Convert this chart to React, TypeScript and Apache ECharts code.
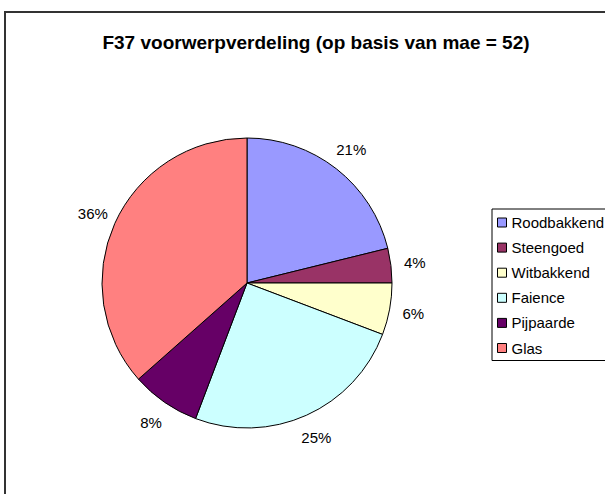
import React, { useEffect, useRef } from "react";
import * as echarts from "echarts";

const categories = ["Roodbakkend", "Steengoed", "Witbakkend", "Faience", "Pijpaarde", "Glas"];
const counts = [11, 2, 3, 13, 4, 19];
const colors = ["#9999FF", "#993366", "#FFFFCC", "#CCFFFF", "#660066", "#FF8080"];
const titleText = "F37 voorwerpverdeling (op basis van mae = 52)";

export default function App() {
  const ref = useRef<HTMLDivElement>(null);
  useEffect(() => {
    if (!ref.current) return;
    const chart = echarts.init(ref.current, null, { renderer: "svg" });
    const font = "Liberation Sans, Arial, sans-serif";
    const cx = 247;
    const cy = 283;
    const r = 145;
    const labelR = 169;
    const total = counts.reduce((a, b) => a + b, 0);
    const midAngles: number[] = [];
    let acc = 0;
    counts.forEach((v) => {
      midAngles.push(Math.PI / 2 - ((acc + v / 2) / total) * 2 * Math.PI);
      acc += v;
    });
    chart.setOption({
      animation: false,
      backgroundColor: "#fff",
      title: {
        text: titleText,
        left: 311,
        top: 28,
        textAlign: "center",
        textStyle: { fontFamily: font, fontSize: 19, fontWeight: "bold", color: "#000" },
      },
      graphic: [
        {
          type: "rect",
          shape: { x: 5, y: 12, width: 700, height: 600 },
          style: { fill: "none", stroke: "#333", lineWidth: 2 },
          silent: true,
          z: -1,
        },
      ],
      legend: {
        orient: "vertical",
        left: 492,
        top: 209,
        itemWidth: 9,
        itemHeight: 9,
        itemGap: 10.1,
        icon: "rect",
        borderColor: "#000",
        borderWidth: 1,
        padding: [6, 12, 5, 5],
        textStyle: { fontFamily: font, fontSize: 15, color: "#000", lineHeight: 15 },
        itemStyle: { borderColor: "#000", borderWidth: 1 },
        data: categories,
      },
      series: [
        {
          type: "pie",
          center: [cx, cy],
          radius: r,
          startAngle: 90,
          clockwise: true,
          percentPrecision: 0,
          data: categories.map((name, i) => ({ name, value: counts[i], itemStyle: { color: colors[i] } })),
          itemStyle: { borderColor: "#000", borderWidth: 1 },
          label: {
            show: true,
            position: "outside",
            formatter: (p: any) => p.percent + "%",
            fontFamily: font,
            fontSize: 15,
            color: "#000",
          },
          labelLine: { show: false, length: 10, length2: 0 },
          labelLayout: (p: any) => {
            const a = midAngles[p.dataIndex];
            return {
              x: cx + labelR * Math.cos(a),
              y: cy - labelR * Math.sin(a),
              align: "center",
              verticalAlign: "middle",
            };
          },
          emphasis: { disabled: true },
        },
      ],
    });
    return () => chart.dispose();
  }, []);
  return <div ref={ref} style={{ position: "fixed", left: 0, top: 0, width: 605, height: 494 }} />;
}
